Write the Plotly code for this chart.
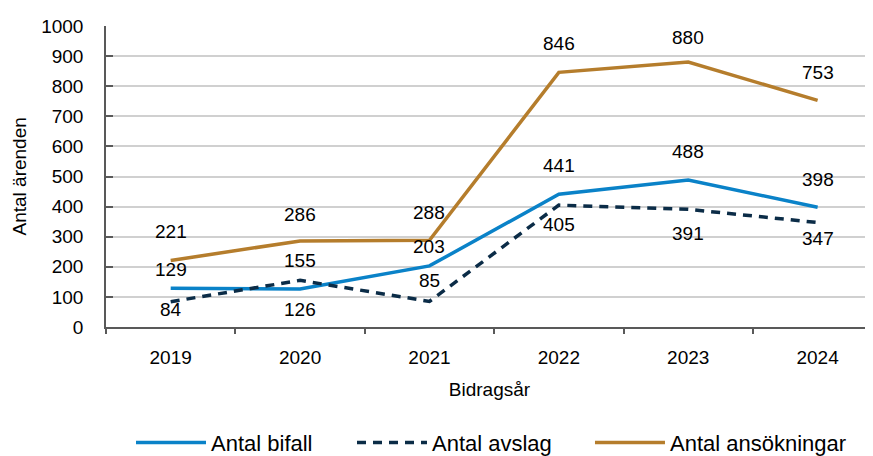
import plotly.graph_objects as go

years = ["2019", "2020", "2021", "2022", "2023", "2024"]
bifall = [129, 126, 203, 441, 488, 398]
avslag = [84, 155, 85, 405, 391, 347]
ansokningar = [221, 286, 288, 846, 880, 753]

series_names = ["Antal bifall", "Antal avslag", "Antal ansökningar"]
y_ticks = [0, 100, 200, 300, 400, 500, 600, 700, 800, 900, 1000]

# label vertical offsets in px (positive = up)
off_bifall = [19, -20, 19, 29, 29, 28]
off_avslag = [-8, 20, 21, -19, -24, -16]
off_ans = [29, 26, 28, 29, 25, 28]

BLUE = "#0a82c8"
NAVY = "#0b2c47"
GOLD = "#b57d2c"
FONT = "Liberation Sans, Arial, sans-serif"

fig = go.Figure()
fig.add_trace(go.Scatter(x=years, y=bifall, name=series_names[0], mode="lines",
                         line=dict(color=BLUE, width=3.5), legend="legend"))
fig.add_trace(go.Scatter(x=years, y=avslag, name=series_names[1], mode="lines",
                         line=dict(color=NAVY, width=3.5, dash="9px,7px"), legend="legend2"))
fig.add_trace(go.Scatter(x=years, y=ansokningar, name=series_names[2], mode="lines",
                         line=dict(color=GOLD, width=3.5), legend="legend3"))

for vals, offs in ((bifall, off_bifall), (avslag, off_avslag), (ansokningar, off_ans)):
    for i, (v, o) in enumerate(zip(vals, offs)):
        fig.add_annotation(x=i, y=v, xref="x", yref="y", text=str(v), showarrow=False,
                           yshift=o, font=dict(size=19, color="#000000", family=FONT))

# y axis title
fig.add_annotation(x=0, y=0.5, xref="paper", yref="paper", text="Antal ärenden",
                   textangle=-90, showarrow=False, xanchor="center", yanchor="middle",
                   xshift=-87, font=dict(size=19, color="#000000", family=FONT))

legend_style = dict(orientation="h", xanchor="left", y=-0.315, yanchor="top",
                    font=dict(size=22, family=FONT), itemwidth=70,
                    bgcolor="rgba(0,0,0,0)")

# page body has an 8px margin, so the figure is sized to fit inside the window
fig.update_layout(
    width=865, height=448,
    margin=dict(l=98, r=0, t=18, b=129, autoexpand=False),
    paper_bgcolor="white", plot_bgcolor="white",
    font=dict(family=FONT, color="#000000", size=19),
    showlegend=True,
    legend=dict(x=0.0326, **legend_style),
    legend2=dict(x=0.3207, **legend_style),
    legend3=dict(x=0.631, **legend_style),
)
fig.update_xaxes(
    type="category", range=[-0.5, 5.428], automargin=False,
    showline=True, linecolor="#595959", linewidth=1.5,
    ticks="outside", ticklen=5, tickcolor="#595959", tickwidth=1.5,
    tickson="boundaries", showgrid=False,
    tickfont=dict(size=19), ticklabelstandoff=12,
    title=dict(text="Bidragsår", font=dict(size=19), standoff=16),
)
fig.update_yaxes(
    range=[0, 1000], tickvals=y_ticks, ticktext=[str(t) for t in y_ticks],
    automargin=False,
    showline=True, linecolor="#595959", linewidth=1.5,
    ticks="inside", ticklen=7, tickcolor="#595959", tickwidth=1.5,
    showgrid=True, gridcolor="#d0d0d0", gridwidth=1.5, zeroline=False,
    tickfont=dict(size=19), ticklabelstandoff=17,
)

fig.write_html("out.html")
